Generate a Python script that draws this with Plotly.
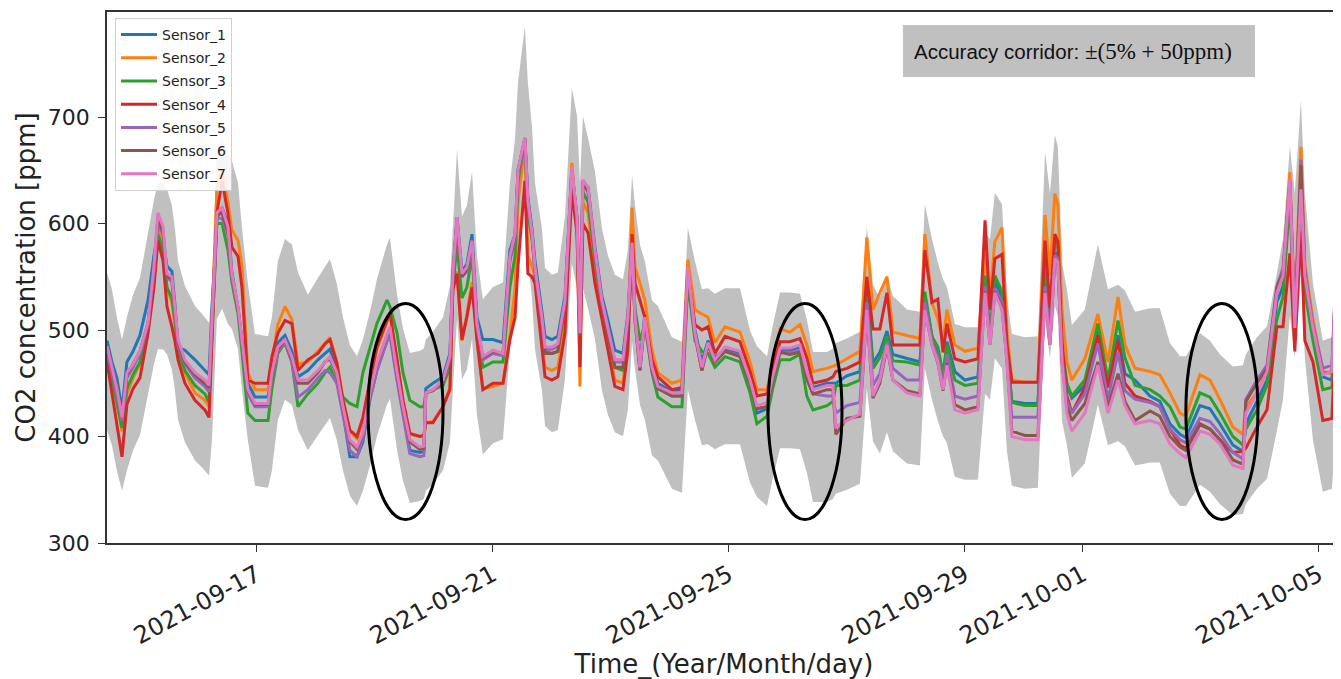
import numpy as np
import pandas as pd
import plotly.graph_objects as go

# ---------------- data ----------------
# hours since 2021-09-14 00:00
hours = [11.0, 13.0, 15.0, 17.1, 19.1, 21.6, 24.4, 27.7, 30.1, 31.7,
         33.8, 35.4, 37.4, 38.6, 39.9, 42.7, 46.8, 50.8, 52.5, 53.7,
         55.7, 57.8, 60.2, 61.8, 64.3, 65.9, 68.3, 71.2, 76.5, 78.1,
         80.5, 83.4, 86.2, 88.7, 92.7, 96.8,
         99.7, 101.7, 104.5, 107.0, 109.8, 112.7, 115.1, 118.0, 120.8, 124.9,
         126.1, 129.0, 131.4, 134.2, 138.3, 139.9, 140.7, 143.6, 147.7, 150.5,
         151.7, 153.4, 155.4, 157.4, 159.5, 161.5, 163.9, 168.0, 172.1, 174.9,
         177.0,
         178.2, 181.0, 182.2, 183.9, 185.1, 187.9, 189.2, 192.0, 194.4, 197.3,
         200.1, 202.2, 203.4, 204.6, 206.7, 209.5, 212.3, 214.8, 217.6, 220.9,
         222.9, 224.6, 225.8, 227.8, 229.8, 232.7, 235.1, 240.8, 244.9, 247.3,
         250.2, 253.0, 255.5, 258.3, 262.4,
         268.5, 272.6, 275.4, 279.5, 281.9, 284.8, 288.8, 292.9, 295.7, 298.2,
         303.9, 306.3, 307.5, 312.0, 317.3, 320.1, 322.6, 325.4, 328.3, 330.7,
         336.4, 341.7,
         343.7, 346.6, 349.0, 351.1, 352.7, 355.9, 360.0, 365.3, 368.2, 370.2,
         372.2, 375.1, 377.1, 379.1, 384.4, 389.7, 392.6, 394.6, 396.6, 397.8,
         399.5, 401.5, 403.5, 408.8, 414.1, 418.2, 422.3, 425.1, 429.2,
         435.3, 439.3, 443.4, 447.5, 449.9, 455.6, 459.7, 463.7, 469.0, 473.1,
         474.3, 478.8, 482.9, 486.9, 489.4, 492.2, 494.2, 496.7, 498.3, 501.6,
         505.6, 509.3, 511.3, 513.0]

sensor_1 = [490, 470, 455, 425, 470, 480, 495, 528, 570, 591, 585, 560, 555, 525, 484, 481, 472, 462, 458, 520,
            605, 615, 600, 555, 520, 490, 450, 437, 437, 460, 488, 495, 480, 456, 462, 472,
            478, 482, 462, 425, 381, 381, 395, 435, 462, 490, 498, 455, 423, 387, 385, 386, 445, 450, 456, 478,
            555, 606, 555, 562, 590, 512, 491, 491, 488, 575, 590,
            650, 680, 625, 595, 565, 518, 494, 491, 494, 532, 650, 606, 500, 640, 634, 578, 532, 509, 481, 478,
            515, 585, 515, 468, 515, 470, 450, 442, 444, 555, 500, 470, 490, 474, 482,
            478, 450, 422, 426, 453, 481, 481, 484, 459, 446, 450, 450, 450, 457, 461, 541, 469, 479, 499, 477,
            473, 470,
            531, 494, 479, 453, 489, 461, 453, 456, 551, 494, 546, 531, 479, 433, 431, 431, 551, 500, 572, 572,
            479, 448, 436, 448, 500, 448, 495, 459, 453,
            438, 433, 412, 402, 399, 429, 426, 412, 392, 386, 412, 433, 453, 526, 541, 634, 510, 650, 551, 505,
            456, 453, 562, 593]

sensor_2 = [480, 455, 430, 405, 440, 455, 468, 505, 545, 600, 580, 540, 525, 505, 478, 460, 441, 434, 428, 500,
            634, 650, 620, 594, 584, 560, 460, 444, 444, 470, 505, 522, 510, 468, 470, 480,
            488, 493, 470, 436, 405, 398, 415, 452, 482, 508, 515, 470, 434, 402, 400, 401, 413, 414, 428, 446,
            540, 555, 490, 515, 545, 490, 445, 447, 450, 495, 540,
            620, 675, 570, 560, 550, 490, 465, 462, 465, 505, 657, 600, 447, 620, 610, 555, 520, 486, 453, 450,
            490, 615, 559, 544, 528, 481, 460, 450, 453, 566, 519, 515, 512, 488, 503,
            498, 470, 444, 444, 470, 501, 498, 505, 486, 461, 464, 466, 467, 473, 480, 587, 519, 535, 550, 498,
            495, 492,
            590, 526, 510, 489, 519, 486, 480, 483, 572, 531, 583, 596, 500, 453, 451, 451, 608, 551, 628, 618,
            519, 470, 453, 473, 515, 470, 531, 486, 464,
            461, 458, 441, 422, 419, 458, 453, 435, 409, 402, 428, 441, 461, 536, 551, 648, 515, 672, 562, 510,
            461, 459, 567, 603]

sensor_3 = [478, 455, 430, 408, 445, 458, 470, 505, 548, 590, 575, 540, 530, 510, 480, 462, 448, 440, 432, 500,
            600, 600, 575, 545, 515, 480, 422, 415, 415, 445, 478, 488, 470, 428, 440, 450,
            460, 465, 450, 437, 431, 428, 460, 484, 506, 528, 522, 497, 460, 434, 428, 428, 441, 444, 448, 465,
            540, 580, 530, 540, 570, 500, 465, 470, 470, 540, 570,
            640, 678, 610, 585, 555, 505, 480, 478, 480, 520, 645, 600, 490, 630, 620, 565, 520, 495, 465, 462,
            500, 570, 520, 490, 505, 460, 437, 428, 428, 545, 490, 480, 478, 465, 475,
            470, 441, 412, 419, 446, 472, 472, 477, 438, 425, 429, 433, 448, 448, 453, 531, 464, 474, 494, 471,
            470, 467,
            536, 494, 484, 459, 486, 453, 448, 450, 551, 494, 551, 536, 479, 432, 429, 429, 567, 510, 584, 583,
            484, 450, 438, 453, 506, 453, 509, 474, 448,
            444, 438, 428, 409, 407, 441, 437, 422, 400, 392, 407, 425, 448, 510, 531, 624, 495, 634, 536, 490,
            444, 446, 552, 588]

sensor_4 = [470, 440, 410, 381, 430, 445, 455, 497, 540, 584, 565, 522, 503, 490, 472, 450, 434, 425, 418, 490,
            610, 640, 610, 578, 569, 540, 453, 450, 450, 475, 497, 509, 506, 462, 472, 478,
            487, 491, 469, 434, 406, 400, 418, 453, 484, 509, 516, 472, 434, 403, 400, 401, 413, 413, 428, 444,
            538, 553, 491, 512, 540, 491, 444, 450, 450, 491, 512,
            560, 640, 553, 550, 544, 481, 456, 453, 456, 497, 630, 591, 465, 600, 591, 544, 512, 481, 447, 444,
            481, 590, 544, 528, 512, 472, 456, 444, 446, 555, 505, 500, 503, 478, 494,
            489, 461, 438, 440, 464, 489, 489, 492, 474, 450, 453, 456, 461, 464, 470, 550, 501, 501, 535, 486,
            486, 486,
            575, 526, 529, 479, 506, 473, 470, 473, 603, 519, 567, 571, 487, 451, 451, 451, 584, 521, 590, 583,
            489, 438, 422, 446, 495, 446, 490, 450, 438,
            433, 428, 407, 392, 389, 412, 407, 397, 385, 386, 389, 409, 425, 503, 503, 572, 480, 593, 490, 470,
            415, 417, 519, 552]

sensor_5 = [480, 460, 440, 415, 455, 465, 478, 505, 555, 600, 590, 550, 545, 518, 485, 468, 455, 447, 442, 505,
            605, 605, 590, 550, 520, 488, 440, 428, 428, 455, 480, 488, 470, 437, 444, 455,
            462, 460, 450, 420, 387, 381, 398, 436, 462, 490, 495, 452, 420, 384, 381, 382, 441, 443, 451, 472,
            550, 600, 550, 555, 580, 503, 472, 478, 476, 565, 585,
            645, 678, 620, 588, 556, 508, 482, 482, 485, 525, 650, 604, 495, 638, 630, 572, 525, 498, 470, 470,
            510, 580, 510, 462, 510, 462, 445, 438, 438, 555, 495, 462, 486, 470, 480,
            476, 450, 426, 428, 454, 479, 479, 481, 454, 440, 438, 438, 422, 429, 432, 526, 448, 459, 489, 464,
            453, 453,
            526, 489, 474, 448, 477, 438, 435, 438, 541, 489, 539, 526, 474, 418, 418, 418, 541, 489, 570, 567,
            474, 433, 422, 440, 487, 435, 479, 443, 435,
            432, 428, 407, 397, 394, 417, 414, 403, 385, 379, 435, 453, 467, 541, 558, 640, 505, 660, 557, 505,
            464, 467, 572, 603]

sensor_6 = [482, 462, 445, 418, 458, 468, 480, 507, 560, 605, 592, 550, 548, 520, 488, 470, 458, 450, 446, 510,
            608, 610, 592, 552, 520, 490, 443, 430, 430, 458, 482, 490, 473, 450, 450, 460,
            470, 473, 458, 426, 395, 388, 402, 440, 468, 495, 500, 458, 426, 395, 388, 389, 441, 443, 452, 473,
            550, 602, 550, 557, 582, 505, 474, 480, 478, 567, 588,
            648, 680, 620, 590, 558, 510, 478, 478, 480, 525, 650, 604, 495, 638, 630, 572, 525, 495, 465, 465,
            508, 578, 508, 462, 510, 462, 445, 438, 438, 555, 495, 462, 486, 470, 480,
            475, 450, 426, 428, 454, 479, 477, 479, 454, 440, 444, 444, 402, 417, 419, 516, 436, 450, 484, 453,
            443, 440,
            519, 486, 469, 443, 469, 430, 425, 428, 536, 486, 536, 521, 471, 405, 401, 401, 536, 486, 567, 564,
            470, 428, 415, 431, 470, 428, 459, 433, 415,
            424, 419, 400, 390, 387, 411, 407, 397, 378, 374, 433, 450, 464, 539, 554, 640, 502, 655, 551, 502,
            459, 461, 567, 599]

sensor_7 = [485, 465, 445, 418, 460, 468, 480, 507, 560, 610, 597, 553, 550, 522, 491, 472, 460, 453, 448, 510,
            610, 615, 597, 553, 522, 491, 444, 431, 431, 460, 484, 491, 475, 453, 453, 462,
            470, 475, 460, 428, 397, 390, 403, 441, 469, 497, 503, 460, 428, 397, 390, 391, 441, 444, 453, 475,
            553, 606, 553, 559, 584, 506, 475, 481, 478, 569, 591,
            650, 681, 622, 591, 559, 512, 484, 484, 487, 528, 653, 606, 497, 641, 634, 575, 528, 500, 472, 472,
            512, 582, 512, 465, 512, 465, 447, 441, 441, 559, 497, 465, 488, 472, 484,
            480, 453, 429, 432, 457, 483, 483, 486, 461, 444, 448, 448, 409, 415, 421, 519, 438, 453, 486, 453,
            441, 438,
            519, 486, 470, 444, 467, 425, 422, 425, 535, 486, 535, 519, 470, 400, 397, 397, 535, 486, 567, 564,
            470, 422, 405, 422, 467, 422, 453, 429, 412,
            415, 412, 393, 384, 380, 405, 402, 393, 373, 370, 422, 441, 461, 535, 551, 642, 502, 632, 551, 502,
            458, 461, 567, 599]

# reference value around which the accuracy corridor is drawn
reference = [480, 465, 440, 420, 440, 460, 475, 514, 545, 560, 560, 555, 540, 520, 490, 468, 450, 440, 435, 470,
             590, 600, 585, 580, 560, 520, 470, 425, 423, 440, 490, 510, 505, 480, 460, 475,
             485, 492, 470, 440, 415, 405, 420, 445, 474, 505, 511, 460, 430, 408, 410, 412, 420, 427, 440, 468,
             520, 590, 530, 540, 570, 495, 456, 467, 471, 560, 600,
             650, 700, 650, 610, 560, 520, 484, 478, 480, 530, 645, 620, 560, 620, 600, 570, 520, 495, 478, 474,
             500, 567, 540, 505, 490, 455, 450, 422, 418, 520, 490, 465, 466, 461, 466,
             466, 428, 414, 405, 433, 462, 462, 461, 438, 409, 409, 412, 417, 421, 427, 521, 469, 457, 478, 459,
             447, 445,
             541, 510, 489, 474, 467, 434, 431, 431, 516, 510, 551, 541, 459, 425, 422, 423, 588, 551, 603, 593,
             489, 465, 433, 447, 505, 465, 469, 464, 445,
             448, 448, 417, 405, 405, 426, 419, 407, 396, 397, 407, 422, 432, 479, 510, 593, 551, 634, 551, 470,
             419, 422, 490, 531]

sensor_names = ["Sensor_1", "Sensor_2", "Sensor_3", "Sensor_4", "Sensor_5", "Sensor_6", "Sensor_7"]
tick_dates = ["2021-09-17", "2021-09-21", "2021-09-25", "2021-09-29", "2021-10-01", "2021-10-05"]
y_ticks = [300, 400, 500, 600, 700]

# highlighted windows (hours since start) and their ppm extent
highlight_windows = [(117.2, 147.7), (279.9, 310.0), (449.9, 479.2)]
highlight_ppm = (322, 525)

# ---------------- styles ----------------
sensor_colors = ["#1f77b4", "#ff7f0e", "#2ca02c", "#d62728", "#9467bd", "#8c564b", "#e377c2"]
FONT = "DejaVu Sans"

all_series = [sensor_1, sensor_2, sensor_3, sensor_4, sensor_5, sensor_6, sensor_7, reference]
for s in all_series:
    assert len(s) == len(hours), len(s)

start = pd.Timestamp("2021-09-14")
t = start + pd.to_timedelta(hours, unit="h")
ref = np.array(reference, dtype=float)
upper = ref * 1.05 + 50.0
lower = ref * 0.95 - 50.0

fig = go.Figure()
fig.add_trace(go.Scatter(x=t, y=lower, mode="lines", line=dict(width=0, color="#c0c0c0"),
                         showlegend=False, hoverinfo="skip"))
fig.add_trace(go.Scatter(x=t, y=upper, mode="lines", line=dict(width=0, color="#c0c0c0"),
                         fill="tonexty", fillcolor="#c0c0c0", showlegend=False, hoverinfo="skip"))

for name, vals, col in zip(sensor_names,
                           [sensor_1, sensor_2, sensor_3, sensor_4, sensor_5, sensor_6, sensor_7],
                           sensor_colors):
    fig.add_trace(go.Scatter(x=t, y=vals, mode="lines", name=name, legendgroup=name,
                             line=dict(color=col, width=3)))

shapes = []
for (h0, h1) in highlight_windows:
    shapes.append(dict(type="circle", xref="x", yref="y",
                       x0=(start + pd.Timedelta(hours=h0)).isoformat(),
                       x1=(start + pd.Timedelta(hours=h1)).isoformat(),
                       y0=highlight_ppm[0], y1=highlight_ppm[1],
                       line=dict(color="black", width=3), layer="above"))
# annotation box
shapes.append(dict(type="rect", xref="paper", yref="paper", x0=0.645, x1=0.9303, y0=0.8776, y1=0.9755,
                   fillcolor="#c0c0c0", line=dict(width=0), layer="above"))

# the page adds an 8 px body margin, so the figure is drawn 8 px smaller / offset
fig.update_layout(
    width=1333, height=671,
    margin=dict(l=99, r=0, t=4, b=136, autoexpand=False),
    plot_bgcolor="white", paper_bgcolor="white",
    font=dict(family=FONT, color="black"),
    shapes=shapes,
    showlegend=True,
    legend=dict(x=0.0065, y=0.9887, xanchor="left", yanchor="top",
                bgcolor="rgba(255,255,255,0.85)", bordercolor="#d0d0d0", borderwidth=1,
                font=dict(family=FONT, size=14, color="#222"),
                traceorder="grouped", tracegroupgap=2, itemwidth=36),
    annotations=[dict(xref="paper", yref="paper", x=0.6524, y=0.9247, xanchor="left", yanchor="middle",
                      showarrow=False, align="left",
                      text="Accuracy corridor: <span style='font-family:Liberation Serif;font-size:23px'>±(5% + 50ppm)</span>",
                      font=dict(family="Liberation Sans", size=20.5, color="#111"))],
)

fig.update_xaxes(
    type="date", automargin=False,
    range=[(start + pd.Timedelta(hours=11.0)).isoformat(), (start + pd.Timedelta(hours=513.0)).isoformat()],
    tickvals=tick_dates, ticktext=tick_dates, tickangle=-28,
    ticks="outside", ticklen=7, tickwidth=1.2, tickcolor="#333",
    tickfont=dict(family=FONT, size=24, color="#222"),
    showline=True, linecolor="#333", linewidth=1.5, mirror=True,
    showgrid=False, zeroline=False,
    title=dict(text="Time_(Year/Month/day)", font=dict(family=FONT, size=26, color="#222"), standoff=4),
)
fig.update_yaxes(
    automargin=False,
    range=[300, 798.6], tickvals=y_ticks,
    ticks="outside", ticklen=7, tickwidth=1.2, tickcolor="#333", ticklabelstandoff=4,
    tickfont=dict(family=FONT, size=22, color="#222"),
    showline=True, linecolor="#333", linewidth=1.5, mirror=False,
    showgrid=False, zeroline=False,
    title=dict(text="CO2 concentration [ppm]", font=dict(family=FONT, size=26, color="#222"), standoff=5),
)

fig.write_html("out.html")
